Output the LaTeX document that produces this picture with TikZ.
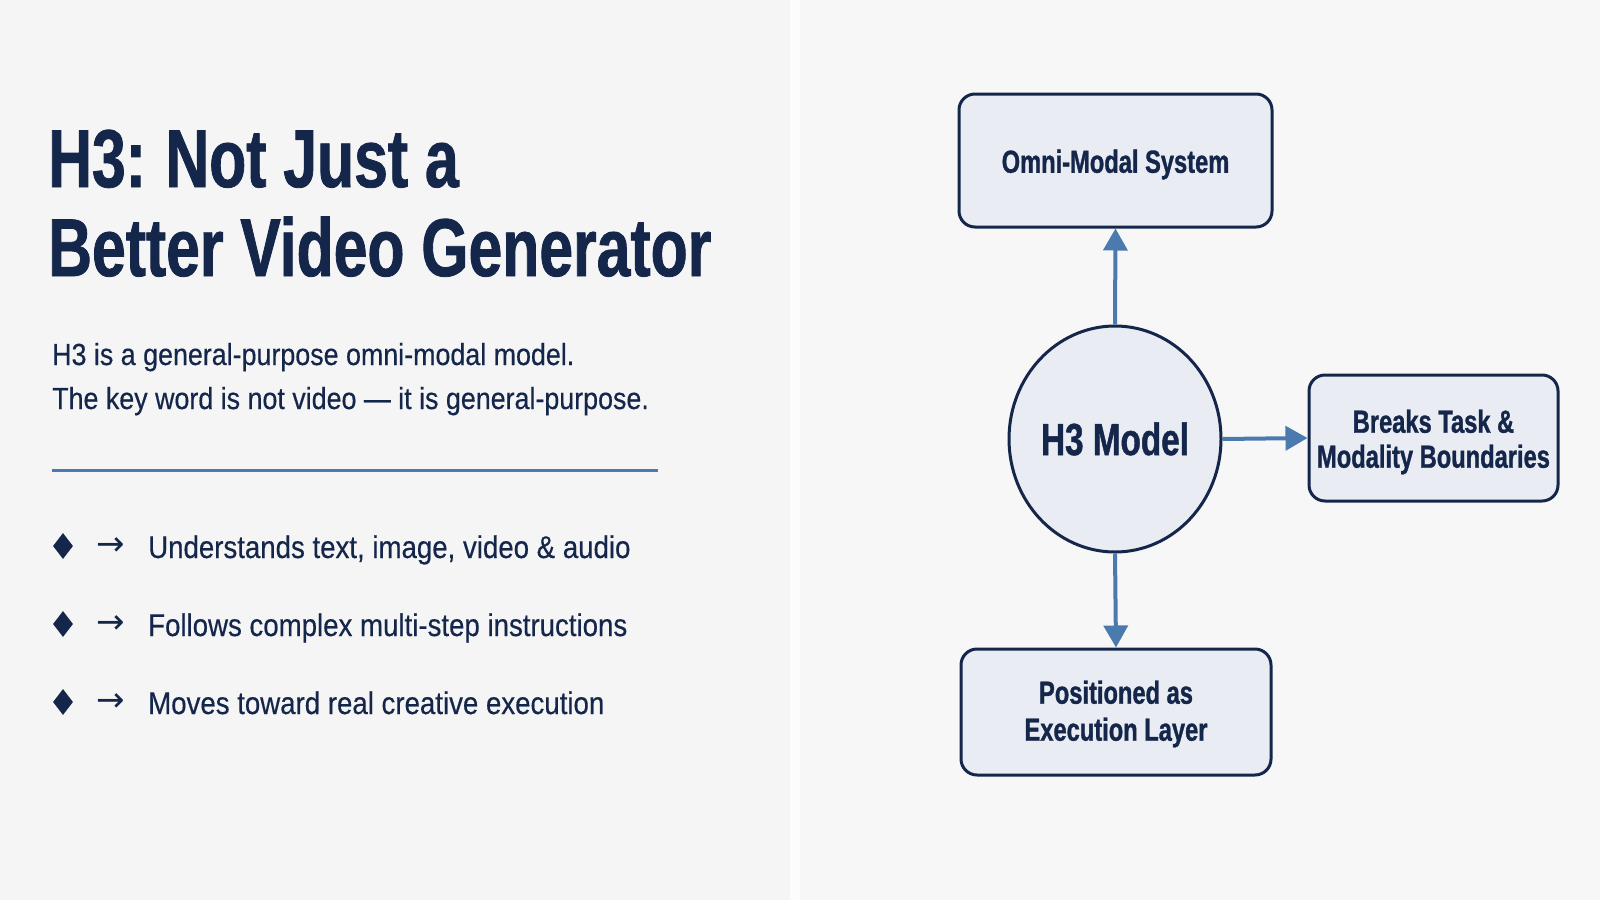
\documentclass[tikz,border=0pt]{standalone}
\usepackage{fontspec}
\setmainfont{Liberation Sans}[FakeStretch=0.88,FakeBold=0.4]
\newfontfamily\condb{Liberation Sans}[FakeStretch=0.74,FakeBold=1]
\newfontfamily\symf{DejaVu Sans}
\usetikzlibrary{shapes.geometric,arrows.meta}
\definecolor{navy}{HTML}{15264B}
\definecolor{bgleft}{HTML}{F5F5F6}
\definecolor{bgband}{HTML}{FCFCFC}
\definecolor{bgright}{HTML}{F7F7F8}
\definecolor{boxfill}{HTML}{E9EDF3}
\definecolor{steel}{HTML}{4A7AAE}
\newcommand{\lowerby}[2]{\raisebox{-#1}[\height][\depth]{#2}}
\tikzset{
  titletext/.style={anchor=base west, inner sep=0, text=navy, font=\condb\bfseries\fontsize{82}{90}\selectfont},
  subtext/.style={anchor=base west, inner sep=0, text=navy, font=\fontsize{30.5}{36}\selectfont},
  bullettext/.style={anchor=base west, inner sep=0, text=navy, font=\fontsize{31.4}{36}\selectfont},
  bulletmark/.style={diamond, fill=navy, inner sep=0, minimum width=20, minimum height=26},
  arrowglyph/.style={inner sep=0, text=navy, font=\symf\fontsize{34}{38}\selectfont},
  box/.style={draw=navy, line width=3pt, fill=boxfill, rounded corners=16pt, inner sep=0, align=center, text=navy, font=\condb\bfseries\fontsize{32}{36}\selectfont},
  hub/.style={draw=navy, line width=3pt, fill=boxfill, ellipse, inner sep=0, text=navy, font=\condb\bfseries\fontsize{45}{50}\selectfont},
  arr/.style={draw=steel, line width=4pt, -{Triangle[length=22pt,width=24pt]}}
}
\begin{document}
\begin{tikzpicture}[x=1pt,y=-1pt]
\useasboundingbox (0,0) rectangle (1600,900);
\fill[bgleft] (0,0) rectangle (790,900);
\fill[bgband] (790,0) rectangle (800,900);
\fill[bgright] (800,0) rectangle (1600,900);

% title
\node[titletext] (t1) at (48,187) {H3:\kern-3pt{} Not Just a};
\node[titletext] (t2) at (48,276) {Better Video Generator};

% subtitle
\node[subtext] (s1) at (52,365) {H3 is a general-purpose omni-modal model.};
\node[subtext] (s2) at (52,409) {The key word is not video — it is general-purpose.};

% rule
\coordinate (r1) at (52,470);
\coordinate (r2) at (658,470);
\draw[steel, line width=3pt] (r1) -- (r2);

% bullets
\node[bulletmark] (d1) at (63,546) {};
\node[arrowglyph] (a1) at (111,547) {→};
\node[bullettext] (b1) at (148,558) {Understands text, image, video \& audio};

\node[bulletmark] (d2) at (63,624) {};
\node[arrowglyph] (a2) at (111,625) {→};
\node[bullettext] (b2) at (148,636) {Follows complex multi-step instructions};

\node[bulletmark] (d3) at (63,702) {};
\node[arrowglyph] (a3) at (111,703) {→};
\node[bullettext] (b3) at (148,714) {Moves toward real creative execution};

% diagram
\node[box, minimum width=313, minimum height=133] (omni) at (1115.5,160.5) {\lowerby{4pt}{Omni-Modal System}};
\node[hub, minimum width=212, minimum height=226] (h3) at (1115,439) {H3 Model};
\node[box, minimum width=249, minimum height=126] (breaks) at (1433.5,438) {\lowerby{5pt}{\begin{tabular}{@{}c@{}}Breaks Task \&\\[-1pt]Modality Boundaries\end{tabular}}};
\node[box, minimum width=310, minimum height=126] (pos) at (1116,712) {\lowerby{3pt}{\begin{tabular}{@{}c@{}}Positioned as\\[1pt]Execution Layer\end{tabular}}};

\draw[arr] (h3.north) -- (omni.south);
\draw[arr] (h3.east) -- (breaks.west);
\draw[arr] (h3.south) -- (pos.north);
\end{tikzpicture}
\end{document}
